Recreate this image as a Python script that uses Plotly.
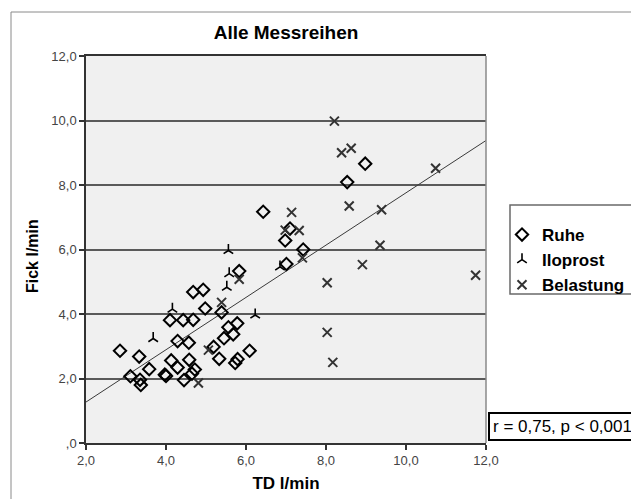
import plotly.graph_objects as go

# Thermodilution (TD) vs. Fick cardiac output, l/min
ruhe_td = [2.85, 3.33, 3.58, 3.11, 3.35, 3.37, 3.97, 4.00, 4.13, 4.29, 4.58, 4.45,
           4.72, 4.65, 4.29, 4.57, 4.10, 4.43, 4.68, 4.68, 4.93, 4.98, 5.39, 5.78,
           5.56, 5.68, 5.45, 5.19, 5.33, 6.09, 5.79, 5.73, 5.83, 6.43, 7.10, 6.98,
           7.43, 7.01, 8.53, 8.98]
ruhe_fick = [2.86, 2.68, 2.29, 2.07, 1.96, 1.80, 2.12, 2.08, 2.56, 2.34, 2.58, 1.95,
             2.28, 2.15, 3.16, 3.11, 3.81, 3.81, 3.82, 4.68, 4.75, 4.17, 4.05, 3.71,
             3.59, 3.37, 3.25, 2.98, 2.61, 2.86, 2.60, 2.48, 5.33, 7.17, 6.65, 6.28,
             6.00, 5.55, 8.09, 8.66]

ilo_td = [3.68, 4.16, 5.56, 5.58, 5.52, 6.23, 6.85]
ilo_fick = [3.24, 4.15, 5.97, 5.25, 4.83, 3.97, 5.46]

bel_td = [4.81, 5.06, 5.39, 5.83, 6.98, 7.14, 7.33, 7.41, 8.03, 8.21, 8.39, 8.63,
          8.58, 9.39, 9.35, 8.91, 10.74, 11.74, 8.03, 8.17]
bel_fick = [1.86, 2.88, 4.36, 5.08, 6.60, 7.15, 6.59, 5.74, 4.97, 9.98, 9.00, 9.14,
            7.35, 7.23, 6.13, 5.53, 8.52, 5.20, 3.43, 2.50]

# linear fit over all series
fit_td = [2.0, 12.0]
fit_fick = [1.27, 9.38]

x_ticks = [2, 4, 6, 8, 10, 12]
x_ticktext = ["2,0", "4,0", "6,0", "8,0", "10,0", "12,0"]
y_ticks = [0, 2, 4, 6, 8, 10, 12]
y_ticktext = [",0", "2,0", "4,0", "6,0", "8,0", "10,0", "12,0"]

FONT = "Liberation Sans, Arial, sans-serif"

fig = go.Figure()
fig.add_trace(go.Scatter(
    x=fit_td, y=fit_fick, mode="lines", showlegend=False,
    line=dict(color="#3a3a3a", width=1), hoverinfo="skip"))
fig.add_trace(go.Scatter(
    x=ruhe_td, y=ruhe_fick, mode="markers", name="Ruhe",
    marker=dict(symbol="diamond-open", size=9.5, color="black",
                line=dict(color="black", width=2))))
fig.add_trace(go.Scatter(
    x=ilo_td, y=ilo_fick, mode="markers", name="Iloprost",
    marker=dict(symbol="y-up", size=8, color="black",
                line=dict(color="black", width=1.6))))
fig.add_trace(go.Scatter(
    x=bel_td, y=bel_fick, mode="markers", name="Belastung",
    marker=dict(symbol="x-thin", size=9, color="#333333",
                line=dict(color="#333333", width=2))))

L, R, T, B = 86, 145, 56, 56
W, H = 631, 499
pw, ph = W - L - R, H - T - B


def px(xp):
    return (xp - L) / pw


def py(yp):
    return (H - B - yp) / ph


fig.update_layout(
    width=W, height=H,
    margin=dict(l=L, r=R, t=T, b=B, autoexpand=False),
    paper_bgcolor="white",
    plot_bgcolor="#f0f0f0",
    font=dict(family=FONT, color="black"),
    title=dict(text="Alle Messreihen", x=286 / W, xanchor="center",
               y=1 - 32 / H, yanchor="middle",
               font=dict(size=19, weight="bold", color="black")),
    xaxis=dict(range=[2, 12], tickvals=x_ticks, ticktext=x_ticktext,
               showgrid=False, zeroline=False, showline=True, mirror=True,
               linecolor="#333333", linewidth=1.5,
               ticks="outside", ticklen=5, tickcolor="#333333", tickwidth=1.5,
               tickfont=dict(size=13, color="#444444"),
               title=dict(text="TD l/min", standoff=10,
                          font=dict(size=17, weight="bold", color="black"))),
    yaxis=dict(range=[0, 12], tickvals=y_ticks, ticktext=y_ticktext,
               showgrid=True, gridcolor="#5a5a5a", gridwidth=1.5,
               zeroline=False, showline=True, linecolor="#333333", linewidth=1.5,
               ticks="outside", ticklen=5, tickcolor="#333333", tickwidth=1.5,
               tickfont=dict(size=13, color="#444444")),
    legend=dict(x=px(502), y=py(217), xanchor="left", yanchor="top",
                bgcolor="rgba(0,0,0,0)", borderwidth=0,
                font=dict(size=17, weight="bold", color="black"),
                tracegroupgap=0, itemwidth=30),
    shapes=[
        # outer frame
        dict(type="rect", xref="paper", yref="paper",
             x0=px(11), x1=px(700), y0=py(560), y1=py(12),
             line=dict(color="#8a8a8a", width=1), layer="below"),
        # right edge of the plot area
        dict(type="line", xref="paper", yref="paper", x0=1, x1=1, y0=0, y1=1,
             line=dict(color="#8a8a8a", width=1.5)),
        # legend box
        dict(type="rect", xref="paper", yref="paper",
             x0=px(510), x1=px(700), y0=py(294), y1=py(205),
             line=dict(color="#6a6a6a", width=1.5), fillcolor="white",
             layer="below"),
    ],
    annotations=[
        # y-axis title
        dict(text="Fick l/min", xref="paper", yref="paper",
             x=px(33), y=py(256), xanchor="center", yanchor="middle",
             textangle=-90, showarrow=False,
             font=dict(size=16, weight="bold", color="black")),
        dict(text="r = 0,75, p < 0,001", xref="paper", yref="paper",
             x=px(488), y=py(426), xanchor="left", yanchor="middle",
             showarrow=False, font=dict(size=17, color="black"),
             bgcolor="white", bordercolor="black", borderwidth=2, borderpad=3),
    ],
)

fig.write_html("out.html")
